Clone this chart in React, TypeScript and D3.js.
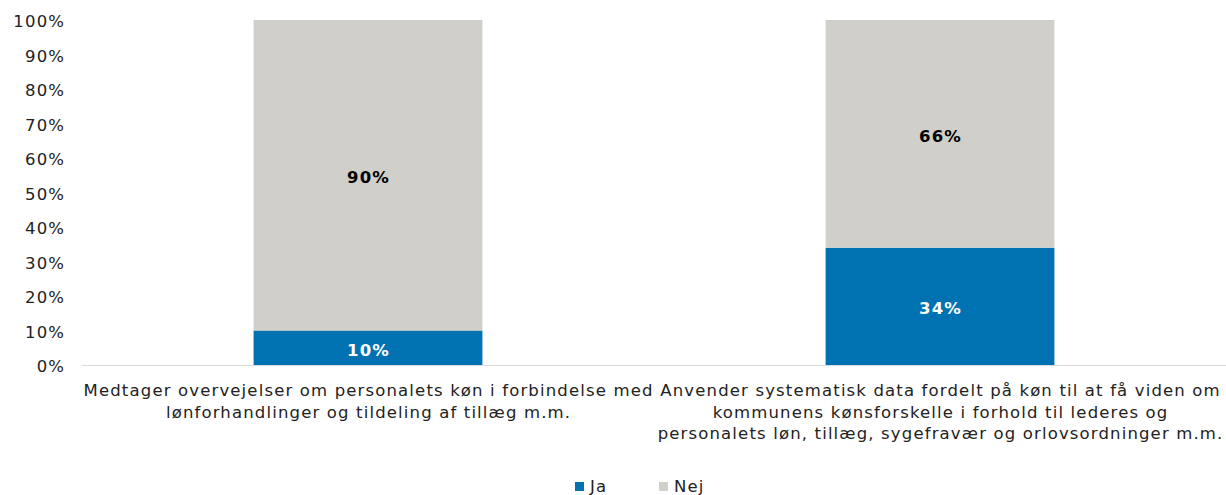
import React from "react";
import * as d3 from "d3";

const categories: string[][] = [
  ["Medtager overvejelser om personalets køn i forbindelse med", "lønforhandlinger og tildeling af tillæg m.m."],
  [
    "Anvender systematisk data fordelt på køn til at få viden om",
    "kommunens kønsforskelle i forhold til lederes og",
    "personalets løn, tillæg, sygefravær og orlovsordninger m.m.",
  ],
];
const seriesNames = ["Ja", "Nej"];
const jaValues = [0.1, 0.34];
const nejValues = [0.9, 0.66];
const yTicks = [0, 0.1, 0.2, 0.3, 0.4, 0.5, 0.6, 0.7, 0.8, 0.9, 1.0];
const colors = ["#0072b1", "#d0cfca"];

const W = 1226;
const H = 495;
const FONT = "'DejaVu Sans', Verdana, sans-serif";
const FS = 16.5;
const LS = 1.15;

export default function App() {
  const left = 82;
  const right = 1226;
  const top = 20;
  const bottom = 365;
  const x = d3.scaleBand<number>().domain(categories.map((_, i) => i)).range([left, right]).padding(0);
  const y = d3.scaleLinear().domain([0, 1]).range([bottom, top]);
  const barW = x.bandwidth() * 0.4;
  const rows = categories.map((_, i) => ({ i, Ja: jaValues[i], Nej: nejValues[i] }));
  const stack = d3.stack<any>().keys(seriesNames)(rows);
  const fmt = d3.format(".0%");

  return (
    <svg width={W} height={H} style={{ position: "absolute", left: 0, top: 0, background: "#fff" }} fontFamily={FONT}>
      {stack.map((layer, si) =>
        layer.map((d, ci) => {
          const cx = (x(ci) as number) + x.bandwidth() / 2;
          const y0 = y(d[0]);
          const y1 = y(d[1]);
          const v = d[1] - d[0];
          return (
            <g key={`${si}-${ci}`}>
              <rect x={cx - barW / 2} y={y1} width={barW} height={y0 - y1} fill={colors[si]} />
              <text
                x={cx + LS / 2}
                y={(y0 + y1) / 2 + 8}
                textAnchor="middle"
                fontSize={FS}
                letterSpacing={LS}
                fontWeight="bold"
                fill={si === 0 ? "#ffffff" : "#000000"}
              >
                {fmt(v)}
              </text>
            </g>
          );
        })
      )}
      <line x1={left} x2={right} y1={bottom + 0.5} y2={bottom + 0.5} stroke="#d9d9d9" strokeWidth={1} />
      {yTicks.map((t) => (
        <text key={t} x={64 + LS} y={y(t) + 7} textAnchor="end" fontSize={FS} letterSpacing={LS} fill="#222">
          {fmt(t)}
        </text>
      ))}
      {categories.map((lines, ci) => (
        <text key={ci} textAnchor="middle" fontSize={FS} letterSpacing={LS} fill="#222">
          {lines.map((ln, li) => (
            <tspan key={li} x={(x(ci) as number) + x.bandwidth() / 2 + LS / 2} y={396 + li * 21.5}>
              {ln}
            </tspan>
          ))}
        </text>
      ))}
      {seriesNames.map((s, i) => {
        const lx = 575 + i * 84;
        return (
          <g key={s}>
            <rect x={lx} y={482} width={9} height={9} fill={colors[i]} />
            <text x={lx + 15} y={492} fontSize={FS} letterSpacing={LS} fill="#222">
              {s}
            </text>
          </g>
        );
      })}
    </svg>
  );
}
